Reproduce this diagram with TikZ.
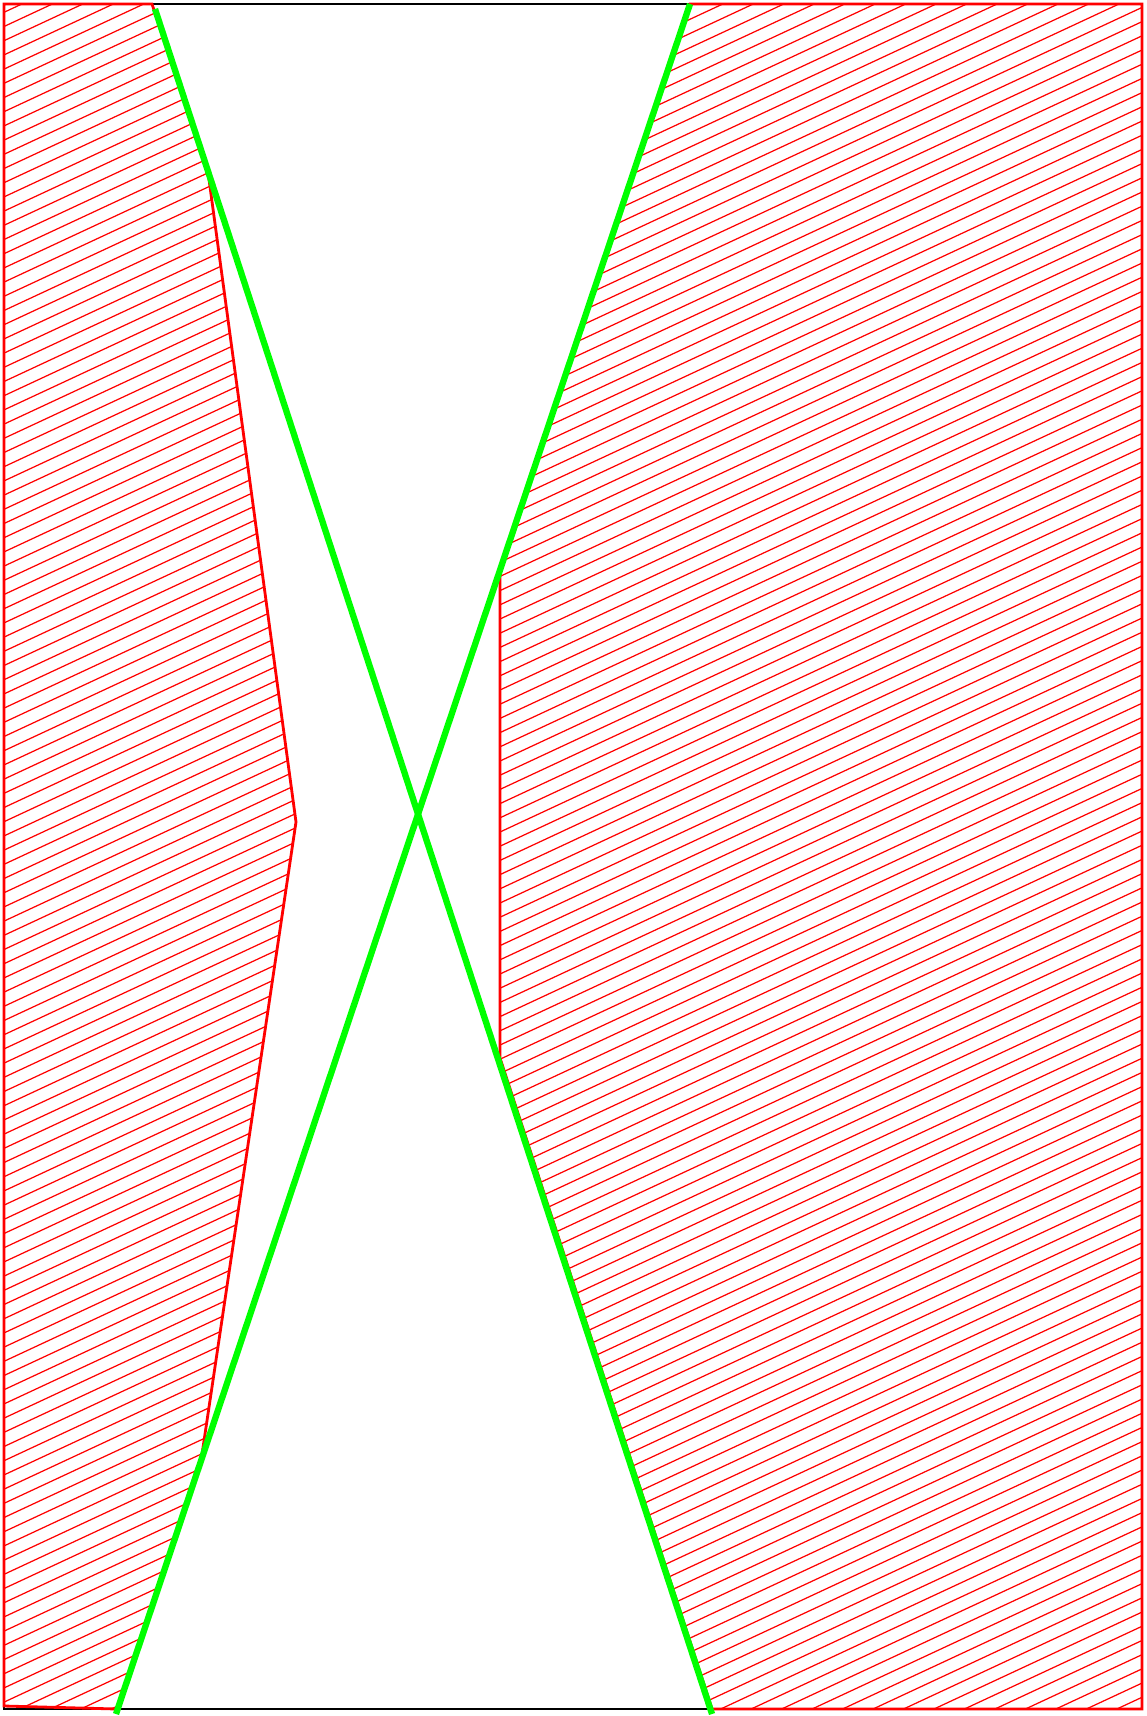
\documentclass[tikz,border=0pt]{standalone}
\usetikzlibrary{calc}

\begin{document}
\begin{tikzpicture}[x=0.01cm, y=-0.01cm,
      marco/.style={draw=black, line width=0.45pt},
      zona/.style={draw=red, line width=0.8pt, line join=miter},
      trama/.style={red, line width=0.35pt},
      rayo/.style={draw=green, line width=1.8pt}
    ]
      \useasboundingbox (0,0) rectangle (1146,1716);
      % extremos de los rayos
      \coordinate (a1) at (155,9);
      \coordinate (a2) at (712,1714);
      \coordinate (b1) at (690,4);
      \coordinate (b2) at (116,1714);

      \draw[marco] (4,4) rectangle (1142,1709);

      % zona izquierda
      \begin{scope}
        \clip (4,4) -- (152,4) -- (208,172) -- (296,822) -- (201,1461)
          -- (117,1709) -- (4,1706) -- cycle;
        \foreach \k in {0,...,160}
          \draw[trama] (0,\k*14.2) -- ++(1146,-534);
      \end{scope}
      \draw[zona] (4,4) -- (152,4) -- (208,172) -- (296,822) -- (201,1461)
        -- (117,1709) -- (4,1706) -- cycle;

      % zona derecha
      \begin{scope}
        \clip (690,4) -- (1142,4) -- (1142,1709) -- (712,1709) -- (500,1058)
          -- (500,573) -- cycle;
        \foreach \k in {0,...,160}
          \draw[trama] (0,\k*14.2) -- ++(1146,-534);
      \end{scope}
      \draw[zona] (690,4) -- (1142,4) -- (1142,1709) -- (712,1709) -- (500,1058)
        -- (500,573) -- cycle;

      \draw[rayo] (a1) -- (a2);
      \draw[rayo] (b1) -- (b2);
    \end{tikzpicture}
\end{document}
